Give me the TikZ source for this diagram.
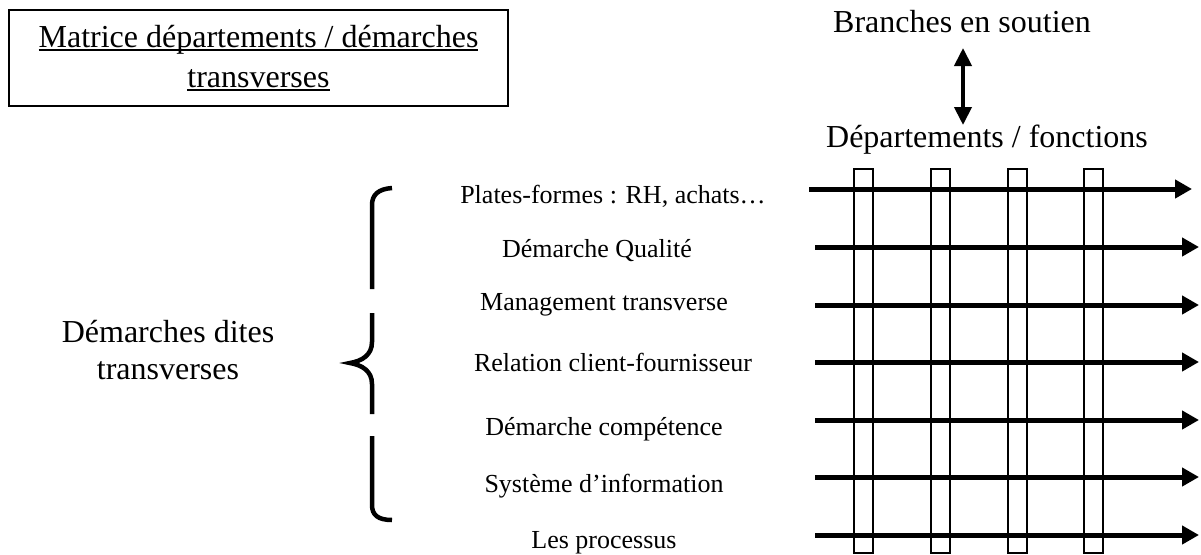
\documentclass[tikz,border=0pt]{standalone}
\usepackage{fontspec}
\setmainfont{Liberation Serif}
\usetikzlibrary{arrows.meta, positioning}

\newcommand\ulined[1]{\setbox0\hbox{#1}\rlap{\rule[-3.5pt]{\wd0}{2pt}}\box0}

\begin{document}
\begin{tikzpicture}[x=1pt, y=-1pt,
    big/.style={font=\fontsize{32}{37}\selectfont, inner sep=0pt},
    row/.style={font=\fontsize{26}{30}\selectfont, inner sep=0pt, anchor=base},
    flow/.style={line width=5pt, -{Triangle[length=17pt, width=18pt]}},
    colbox/.style={draw, line width=1.6pt},
    brace/.style={line width=4.5pt}]
    \useasboundingbox (0, 0) rectangle (1201, 554);

    % titre encadre
    \node[draw, line width=1.6pt, minimum width=499pt, minimum height=96pt,
        align=center, font=\fontsize{32}{40}\selectfont] (title) at (258.5, 58)
        {\ulined{Matrice départements / démarches}\\ \ulined{transverses}};

    % haut droite
    \node[big, anchor=base] (branches) at (962, 32) {Branches en soutien};
    \node[big, anchor=base] (depts) at (987, 147) {Départements / fonctions};
    \coordinate (updn top) at (963, 48);
    \coordinate (updn bot) at (963, 125);
    \draw[line width=4pt, {Triangle[length=18pt, width=17pt]}-{Triangle[length=18pt, width=17pt]}]
        (updn top) -- (updn bot);

    % colonnes
    \foreach \x in {854, 931, 1008, 1084}
        \draw[colbox] (\x, 169) rectangle ++(19, 384);

    % fleches
    \draw[flow] (809, 189) -- (1192, 189);
    \foreach \y in {247, 305, 362, 420, 477, 535}
        \draw[flow] (815, \y) -- (1199, \y);

    % demarches
    \foreach \x/\y/\t [count=\i] in {613/203/{Plates-formes : RH, achats…},
                                     597/257/{Démarche Qualité},
                                     604/310/{Management transverse},
                                     613/371/{Relation client-fournisseur},
                                     604/435/{Démarche compétence},
                                     604/492/{Système d’information},
                                     604/548/{Les processus}}
        \node[row] (r\i) at (\x, \y) {\t};

    % accolade
    \draw[brace] (392, 188) .. controls (378, 189) and (372, 195) .. (372, 205) -- (372, 289);
    \draw[brace] (372, 313) -- (372, 342) .. controls (372, 355) and (362, 361) .. (350, 363)
        .. controls (362, 365) and (372, 371) .. (372, 384) -- (372, 414);
    \draw[brace] (372, 436) -- (372, 505) .. controls (372, 515) and (378, 520) .. (392, 520);

    \node[big, align=center] (dites) at (168, 350.5) {Démarches dites\\transverses};
\end{tikzpicture}
\end{document}
